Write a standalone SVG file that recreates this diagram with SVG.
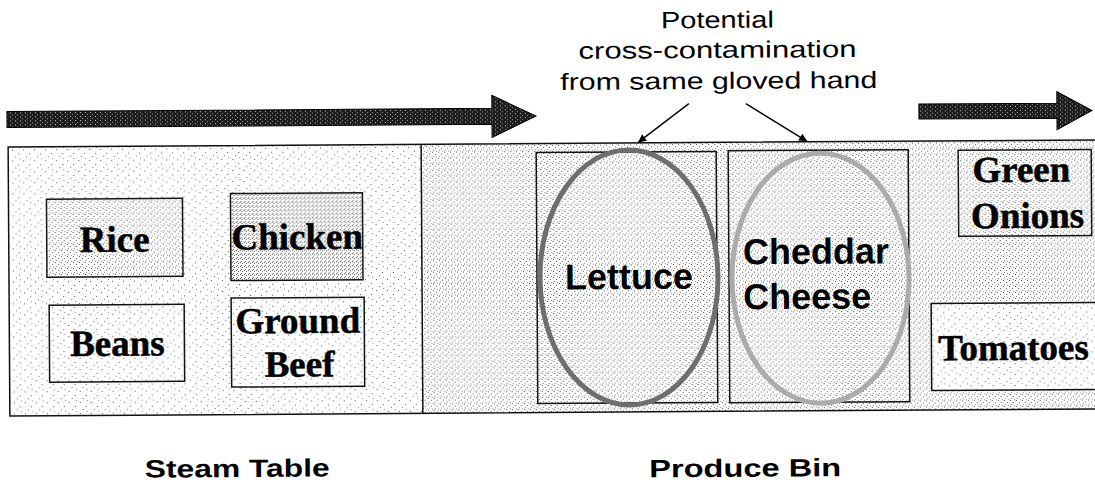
<svg xmlns="http://www.w3.org/2000/svg" width="1095" height="486" viewBox="0 0 1095 486">
<defs>
  <pattern id="spL" width="11" height="11" patternUnits="userSpaceOnUse">
    <rect x="2" y="3" width="1" height="1" fill="#555"/>
    <rect x="8" y="7" width="1" height="1" fill="#555"/>
    <rect x="5" y="10" width="1" height="1" fill="#777"/>
    <rect x="9" y="1" width="1" height="1" fill="#888"/>
  </pattern>
  <pattern id="spM" width="6" height="6" patternUnits="userSpaceOnUse">
    <rect x="1" y="1" width="1" height="1" fill="#444"/>
    <rect x="4" y="3" width="1" height="1" fill="#555"/>
    <rect x="2" y="5" width="1" height="1" fill="#777"/>
    <rect x="5" y="0" width="1" height="1" fill="#888"/>
  </pattern>
  <pattern id="spD" width="4" height="4" patternUnits="userSpaceOnUse">
    <rect x="0" y="0" width="1" height="1" fill="#444"/>
    <rect x="2" y="1" width="1" height="1" fill="#555"/>
    <rect x="1" y="3" width="1" height="1" fill="#666"/>
  </pattern>
  <pattern id="arrowTex" width="5" height="4" patternUnits="userSpaceOnUse">
    <rect width="5" height="4" fill="#1c1c1c"/>
    <rect x="1" y="1" width="1" height="1" fill="#cccccc"/>
    <rect x="3" y="3" width="1" height="1" fill="#999999"/>
  </pattern>
  <marker id="ah" viewBox="0 0 10 10" refX="10" refY="5" markerUnits="userSpaceOnUse" markerWidth="10" markerHeight="8" orient="auto">
    <path d="M0,0 L10,5 L0,10 z" fill="#000"/>
  </marker>
</defs>
<style>
  .box { stroke:#111; stroke-width:1.5; }
  .flow { fill:url(#arrowTex); stroke:#000; stroke-width:1; }
  .tnr { font-family:"Liberation Serif","Times New Roman",serif; font-weight:bold; font-size:37px; fill:#000; stroke:#000; stroke-width:0.5; text-anchor:middle; }
  .arl { font-family:"Liberation Sans",Arial,sans-serif; font-weight:bold; font-size:36px; fill:#000; }
  .cap { font-family:"Liberation Sans",Arial,sans-serif; font-size:23.5px; fill:#000; text-anchor:middle; }
  .lbl { font-family:"Liberation Sans",Arial,sans-serif; font-weight:bold; font-size:25px; fill:#000; text-anchor:middle; }
  .ring { fill:none; stroke-width:5; }
  .ptr { stroke:#000; stroke-width:1.4; fill:none; }
</style>
<rect width="1095" height="486" fill="#fff"/>
<g transform="rotate(-0.37 547 280)">
  <g id="flow-arrow-1">
    <polygon class="flow" points="8,108 493,108 493,95 537,116 493,137 493,124 8,124"/>
  </g>
  <g id="flow-arrow-2">
    <polygon class="flow" points="920,106.5 1058,106.5 1058,95 1093,114 1058,133 1058,121.5 920,121.5"/>
  </g>

  <g id="counter">
    <rect x="9" y="143.5" width="1100" height="269" fill="#fff"/>
    <rect x="9" y="143.5" width="413" height="269" fill="url(#spL)"/>
    <rect x="422" y="143.5" width="690" height="269" fill="url(#spM)"/>
    <rect x="9" y="143.5" width="1100" height="269" fill="none" class="box"/>
    <line x1="422" y1="143.5" x2="422" y2="412.5" class="box"/>
  </g>

  <g id="rice">
    <rect x="47" y="196" width="136" height="78" fill="#fff" class="box"/>
    <rect x="47" y="196" width="136" height="78" fill="url(#spM)"/>
    <text class="tnr" x="115" y="249">Rice</text>
  </g>
  <g id="chicken">
    <rect x="231" y="191.5" width="132" height="87" fill="#fff" class="box"/>
    <rect x="231" y="191.5" width="132" height="87" fill="url(#spD)"/>
    <text class="tnr" x="297.5" y="247.5">Chicken</text>
  </g>
  <g id="beans">
    <rect x="49" y="302" width="135" height="77" fill="#fff" class="box"/>
    <rect x="49" y="302" width="135" height="77" fill="url(#spL)"/>
    <text class="tnr" x="117" y="353">Beans</text>
  </g>
  <g id="ground-beef">
    <rect x="231" y="296" width="133" height="89" fill="#fff" class="box"/>
    <rect x="231" y="296" width="133" height="89" fill="url(#spL)"/>
    <text class="tnr" x="297.5" y="331.5">Ground</text>
    <text class="tnr" x="299" y="375">Beef</text>
  </g>

  <g id="lettuce">
    <rect x="537" y="152.5" width="180" height="251" fill="none" class="box"/>
    <ellipse class="ring" cx="629" cy="278" rx="89" ry="127.5" stroke="#6e6e6e"/>
    <text class="arl" x="629" y="289.5" text-anchor="middle">Lettuce</text>
  </g>
  <g id="cheddar-cheese">
    <rect x="729" y="152" width="180" height="252" fill="none" class="box"/>
    <ellipse class="ring" cx="820.5" cy="280" rx="88.5" ry="125" stroke="#ababab"/>
    <text class="arl" x="743" y="265.5">Cheddar</text>
    <text class="arl" x="743" y="310.5">Cheese</text>
  </g>
  <g id="green-onions">
    <rect x="959" y="153" width="133" height="86" fill="#fff" class="box"/>
    <rect x="959" y="153" width="133" height="86" fill="url(#spM)"/>
    <text class="tnr" x="1022" y="185">Green</text>
    <text class="tnr" x="1028" y="231">Onions</text>
  </g>
  <g id="tomatoes">
    <rect x="931" y="306" width="175" height="87" fill="#fff" class="box"/>
    <rect x="931" y="306" width="175" height="87" fill="url(#spL)"/>
    <text class="tnr" x="1013" y="363">Tomatoes</text>
  </g>

  <g id="callout">
    <text class="cap" x="719" y="29" textLength="113" lengthAdjust="spacingAndGlyphs">Potential</text>
    <text class="cap" x="719" y="59" textLength="278" lengthAdjust="spacingAndGlyphs">cross-contamination</text>
    <text class="cap" x="720" y="90" textLength="317" lengthAdjust="spacingAndGlyphs">from same gloved hand</text>
  </g>

  <g id="connectors">
    <line class="ptr" x1="690" y1="104.5" x2="639" y2="143" marker-end="url(#ah)"/>
    <line class="ptr" x1="747" y1="105" x2="808" y2="143" marker-end="url(#ah)"/>
  </g>

  <g id="labels">
    <text class="lbl" x="236" y="475" textLength="185" lengthAdjust="spacingAndGlyphs">Steam Table</text>
    <text class="lbl" x="744" y="478" textLength="192" lengthAdjust="spacingAndGlyphs">Produce Bin</text>
  </g>
</g>
</svg>
